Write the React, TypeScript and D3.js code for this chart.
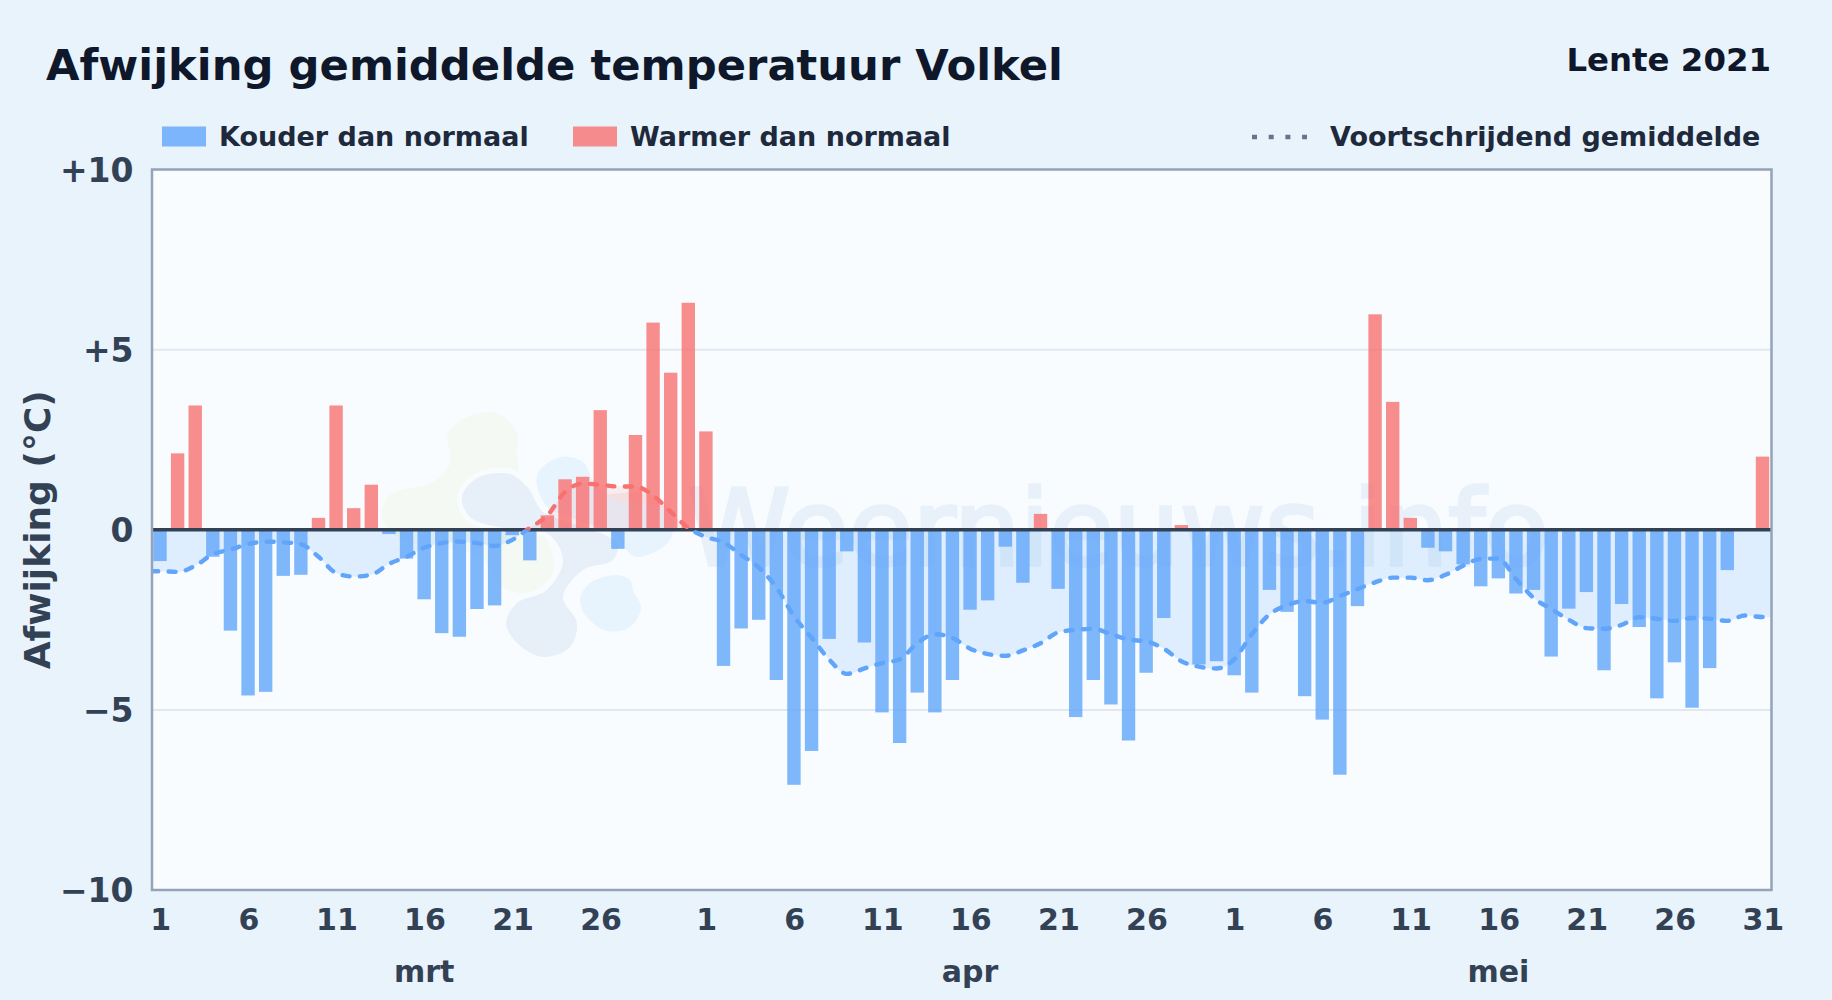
import * as d3 from "d3";
import { useEffect, useRef } from "react";

const marchValues = [-0.87, 2.12, 3.45, -0.75, -2.8, -4.6, -4.5, -1.28, -1.25, 0.33, 3.45, 0.6, 1.25, -0.12, -0.8, -1.93, -2.87, -2.97, -2.2, -2.1, -0.15, -0.85, 0.4, 1.4, 1.47, 3.32, -0.53, 2.63, 5.75, 4.36, 6.3];
const aprilValues = [2.73, -3.78, -2.74, -2.5, -4.17, -7.08, -6.14, -3.03, -0.6, -3.13, -5.07, -5.92, -4.52, -5.07, -4.17, -2.22, -1.96, -0.47, -1.47, 0.44, -1.64, -5.2, -4.17, -4.85, -5.85, -3.97, -2.45, 0.13, -3.74, -3.65];
const mayValues = [-4.04, -4.52, -1.67, -2.28, -4.62, -5.27, -6.8, -2.12, 5.98, 3.55, 0.33, -0.5, -0.6, -0.96, -1.57, -1.35, -1.77, -1.67, -3.52, -2.19, -1.73, -3.9, -2.06, -2.7, -4.68, -3.68, -4.94, -3.84, -1.12, 0, 2.03];

const marchAverage = [-1.15, -1.17, -1.0, -0.68, -0.55, -0.4, -0.33, -0.35, -0.4, -0.75, -1.2, -1.3, -1.25, -0.95, -0.75, -0.5, -0.37, -0.33, -0.37, -0.45, -0.28, 0.05, 0.4, 1.05, 1.28, 1.25, 1.2, 1.2, 0.95, 0.5, 0.05];
const aprilAverage = [-0.2, -0.35, -0.7, -1.05, -1.6, -2.4, -3.0, -3.6, -4.0, -3.85, -3.7, -3.6, -3.15, -2.9, -3.0, -3.3, -3.45, -3.5, -3.35, -3.15, -2.85, -2.78, -2.75, -2.9, -3.05, -3.1, -3.3, -3.65, -3.8, -3.85];
const mayAverage = [-3.6, -2.9, -2.35, -2.1, -1.98, -2.03, -1.84, -1.65, -1.46, -1.33, -1.33, -1.4, -1.25, -1.0, -0.81, -0.8, -1.37, -1.89, -2.2, -2.5, -2.73, -2.75, -2.64, -2.43, -2.47, -2.53, -2.45, -2.47, -2.53, -2.38, -2.42];

const monthNames = ["mrt", "apr", "mei"];
const monthLengths = [31, 30, 31];
const dayTicks = [1, 6, 11, 16, 21, 26];
const yTicks = [10, 5, 0, -5, -10];

// background logo shapes, in page pixels
const logoGreen = [[448, 433], [467, 417], [497, 413], [517, 433], [517, 457], [527, 500], [552, 553], [553, 573], [530, 593], [503, 587], [480, 557], [403, 540], [382, 520], [390, 495], [433, 482], [450, 463]];
const logoGrey = [[462, 497], [477, 478], [510, 474], [528, 488], [543, 512], [570, 523], [617, 543], [613, 560], [583, 570], [563, 597], [577, 623], [570, 647], [543, 657], [517, 643], [506, 623], [517, 603], [547, 590], [563, 560], [547, 533], [503, 528], [470, 517]];
const logoBlueTop = [[537, 475], [560, 457], [583, 462], [593, 480], [610, 497], [670, 513], [670, 540], [637, 557], [618, 543], [570, 517], [547, 507]];
const logoBlueBottom = [[580, 600], [590, 583], [617, 575], [630, 580], [633, 590], [641, 608], [630, 627], [607, 631], [587, 617]];
const logoRed = [[597, 500], [623, 493], [657, 497], [670, 513], [657, 528], [623, 528], [603, 523]];

const App = () => {
    const svgRef = useRef<SVGSVGElement>(null);

    useEffect(() => {
        if (!svgRef.current) return;
        const svg = d3.select(svgRef.current);
        svg.selectAll("*").remove();

        const font = "'DejaVu Sans', sans-serif";
        const values = [...marchValues, ...aprilValues, ...mayValues];
        const average = [...marchAverage, ...aprilAverage, ...mayAverage];
        const indices = values.map((_, i) => i);

        const left = 152, right = 1771.5, top = 169.5, bottom = 890;

        const x = d3.scaleBand<number>().domain(indices).range([151.2, 1771.3]).paddingInner(0.24).paddingOuter(0.12);
        const centre = d3.scaleLinear().domain([-0.5, values.length - 0.5]).range([151.2, 1771.3]);
        const y = d3.scaleLinear().domain([-10, 10]).range([bottom, top]);

        svg.append("rect").attr("width", 1832).attr("height", 1000).attr("fill", "#e8f3fc");
        svg.append("rect")
            .attr("x", left).attr("y", top)
            .attr("width", right - left).attr("height", bottom - top)
            .attr("fill", "#f8fcff");

        // watermark
        const blob = d3.line().curve(d3.curveCatmullRomClosed.alpha(0.5));
        const mark = svg.append("g");
        mark.append("path").attr("d", blob(logoGreen as [number, number][])).attr("fill", "#f4faf3");
        mark.append("path").attr("d", blob(logoRed as [number, number][])).attr("fill", "#f6ecee");
        mark.append("path").attr("d", blob(logoBlueTop as [number, number][])).attr("fill", "#e8f4fd");
        mark.append("path").attr("d", blob(logoBlueBottom as [number, number][])).attr("fill", "#e8f4fd")
            .attr("stroke", "#f8fcff").attr("stroke-width", 8).attr("paint-order", "stroke");
        mark.append("path").attr("d", blob(logoGrey as [number, number][])).attr("fill", "#e7eff8")
            .attr("stroke", "#f8fcff").attr("stroke-width", 10).attr("paint-order", "stroke");
        mark.append("text")
            .attr("x", 1118).attr("y", 565)
            .attr("text-anchor", "middle")
            .style("font", `104.5px ${font}`)
            .attr("fill", "#e8f1fa")
            .attr("stroke", "#e8f1fa")
            .attr("stroke-width", 3.5)
            .text("Weernieuws.info");

        // grid
        svg.append("g")
            .selectAll("line")
            .data(yTicks.filter((t) => Math.abs(t) === 5))
            .enter()
            .append("line")
            .attr("x1", left).attr("x2", right)
            .attr("y1", (d) => y(d)).attr("y2", (d) => y(d))
            .attr("stroke", "#e2e8f0").attr("stroke-width", 2);

        // moving average, split at zero into a warm and a cold part
        const defs = svg.append("defs");
        defs.append("clipPath").attr("id", "above")
            .append("rect").attr("x", left).attr("y", top).attr("width", right - left).attr("height", y(0) - top);
        defs.append("clipPath").attr("id", "below")
            .append("rect").attr("x", left).attr("y", y(0)).attr("width", right - left).attr("height", bottom - y(0));

        const avgPoints: [number, number][] = [
            [-0.5, average[0]],
            ...average.map((v, i) => [i, v] as [number, number]),
            [average.length - 0.5, average[average.length - 1]],
        ];
        const area = d3.area<[number, number]>()
            .x((d) => centre(d[0]))
            .y0(y(0))
            .y1((d) => y(d[1]))
            .curve(d3.curveMonotoneX);
        const line = d3.line<[number, number]>()
            .x((d) => centre(d[0]))
            .y((d) => y(d[1]))
            .curve(d3.curveMonotoneX);

        svg.append("path").attr("d", area(avgPoints)).attr("fill", "#60a5fa").attr("fill-opacity", 0.16).attr("clip-path", "url(#below)");
        svg.append("path").attr("d", area(avgPoints)).attr("fill", "#ef4444").attr("fill-opacity", 0.08).attr("clip-path", "url(#above)");

        // bars
        svg.append("g")
            .selectAll("rect")
            .data(indices)
            .enter()
            .append("rect")
            .attr("x", (d) => x(d)!)
            .attr("width", x.bandwidth())
            .attr("y", (d) => Math.min(y(0), y(values[d])))
            .attr("height", (d) => Math.abs(y(values[d]) - y(0)))
            .attr("fill", (d) => (values[d] < 0 ? "#60a5fa" : "#f87171"))
            .attr("fill-opacity", 0.8);

        svg.append("line")
            .attr("x1", left).attr("x2", right)
            .attr("y1", y(0)).attr("y2", y(0))
            .attr("stroke", "#334155").attr("stroke-width", 3.5);

        [["below", "#60a5fa"], ["above", "#f87171"]].forEach(([clip, colour]) => {
            svg.append("path")
                .attr("d", line(avgPoints))
                .attr("fill", "none")
                .attr("stroke", colour)
                .attr("stroke-width", 4.4)
                .attr("stroke-linecap", "round")
                .attr("stroke-dasharray", "7 10.4")
                .attr("clip-path", `url(#${clip})`);
        });

        svg.append("rect")
            .attr("x", left).attr("y", top)
            .attr("width", right - left).attr("height", bottom - top)
            .attr("fill", "none")
            .attr("stroke", "#94a3b8").attr("stroke-width", 2.5);

        // axes
        const tickIndices: number[] = [];
        const tickLabels = new Map<number, string>();
        let offset = 0;
        monthLengths.forEach((len) => {
            dayTicks.forEach((day) => {
                tickIndices.push(offset + day - 1);
                tickLabels.set(offset + day - 1, String(day));
            });
            offset += len;
        });
        tickIndices.push(values.length - 1);
        tickLabels.set(values.length - 1, "31");

        const xAxis = svg.append("g")
            .attr("transform", `translate(0.8,${bottom})`)
            .call(d3.axisBottom(x).tickValues(tickIndices).tickFormat((d) => tickLabels.get(d as number)!).tickSize(0).tickPadding(19));
        xAxis.select(".domain").remove();
        xAxis.selectAll("text").style("font", `bold 30px ${font}`).attr("fill", "#334155");

        const yAxis = svg.append("g")
            .attr("transform", `translate(${left},1.2)`)
            .call(d3.axisLeft(y).tickValues(yTicks).tickFormat((d) => {
                const v = d as number;
                return v > 0 ? `+${v}` : v < 0 ? `\u2212${-v}` : "0";
            }).tickSize(0).tickPadding(18.5));
        yAxis.select(".domain").remove();
        yAxis.selectAll("text").style("font", `bold 33px ${font}`).attr("fill", "#334155");

        let monthStart = 0;
        monthNames.forEach((name, m) => {
            svg.append("text")
                .attr("x", x(monthStart + 15)! + x.bandwidth() / 2)
                .attr("y", 982)
                .attr("text-anchor", "middle")
                .style("font", `bold 30px ${font}`)
                .attr("fill", "#334155")
                .text(name);
            monthStart += monthLengths[m];
        });

        svg.append("text")
            .attr("transform", `translate(50,${y(0)}) rotate(-90)`)
            .attr("text-anchor", "middle")
            .style("font", `bold 36px ${font}`)
            .attr("fill", "#334155")
            .text("Afwijking (°C)");

        // titles
        svg.append("text")
            .attr("x", 46).attr("y", 79.5)
            .style("font", `bold 43.3px ${font}`)
            .attr("fill", "#0f172a")
            .text("Afwijking gemiddelde temperatuur Volkel");
        svg.append("text")
            .attr("x", 1771).attr("y", 71)
            .attr("text-anchor", "end")
            .style("font", `bold 32.4px ${font}`)
            .attr("fill", "#0f172a")
            .text("Lente 2021");

        // legend
        const legendText = (tx: number, label: string) =>
            svg.append("text")
                .attr("x", tx).attr("y", 146)
                .style("font", `bold 27px ${font}`)
                .attr("fill", "#1e293b")
                .text(label);
        svg.append("rect").attr("x", 162).attr("y", 126.5).attr("width", 44).attr("height", 20).attr("fill", "#60a5fa").attr("fill-opacity", 0.8);
        legendText(219, "Kouder dan normaal");
        svg.append("rect").attr("x", 573).attr("y", 126.5).attr("width", 44).attr("height", 20).attr("fill", "#f87171").attr("fill-opacity", 0.8);
        legendText(630, "Warmer dan normaal");
        svg.append("line")
            .attr("x1", 1252).attr("x2", 1307)
            .attr("y1", 137).attr("y2", 137)
            .attr("stroke", "#64748b").attr("stroke-width", 4.5)
            .attr("stroke-dasharray", "5 11.7");
        legendText(1330, "Voortschrijdend gemiddelde");
    }, []);

    return (
        <>
            <style>{"body{margin:0;background:#e8f3fc}"}</style>
            <svg ref={svgRef} width={1832} height={1000} style={{ display: "block" }} />
        </>
    );
};

export default App;
